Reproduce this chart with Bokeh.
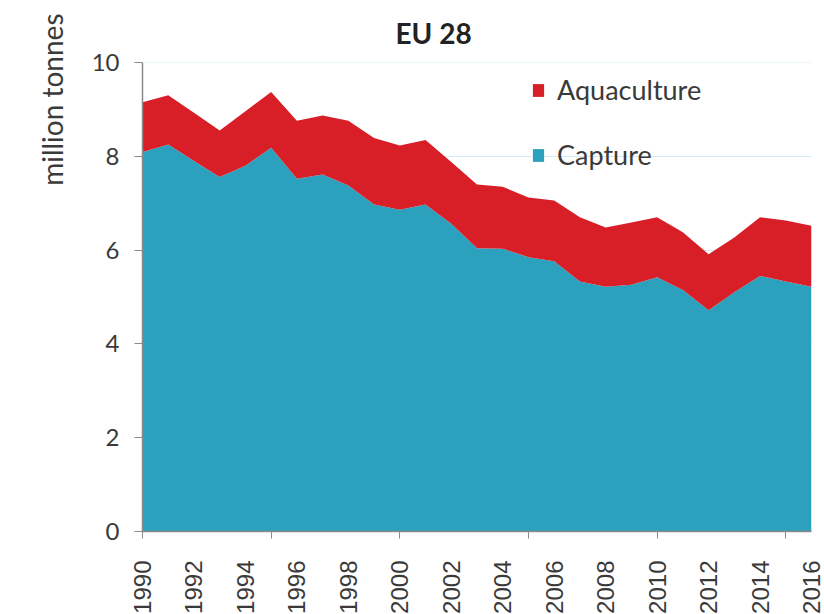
from math import pi
from bokeh.plotting import figure
from bokeh.models import Range1d, FixedTicker, Legend, LegendItem, Title, Span, ColumnDataSource
from bokeh.embed import file_html
from bokeh.resources import INLINE

years = list(range(1990, 2017))
capture = [8.09, 8.25, 7.90, 7.56, 7.80, 8.18, 7.52, 7.61, 7.38, 6.97, 6.86, 6.97, 6.56, 6.04,
           6.03, 5.85, 5.76, 5.33, 5.22, 5.26, 5.42, 5.15, 4.72, 5.10, 5.45, 5.33, 5.22]
aquaculture = [1.06, 1.05, 1.03, 0.99, 1.16, 1.19, 1.24, 1.26, 1.38, 1.42, 1.37, 1.38, 1.32, 1.36,
               1.32, 1.27, 1.30, 1.37, 1.26, 1.33, 1.28, 1.23, 1.19, 1.17, 1.25, 1.30, 1.30]
x_tick_labels = list(range(1990, 2017, 2))
x_minor_ticks = list(range(1990, 2016, 5))
y_ticks = [0, 2, 4, 6, 8, 10]

BLUE = "#2ba1be"
RED = "#d81f28"
TXT = "#3a3a3a"

src = ColumnDataSource(dict(year=years, capture=capture, aquaculture=aquaculture))

p = figure(width=820, height=612, output_backend="svg", toolbar_location=None,
           x_range=Range1d(1990, 2016), y_range=Range1d(0, 10),
           min_border_left=142, min_border_top=62, min_border_right=13, min_border_bottom=10)
p.frame_width = 669
p.frame_height = 469
p.outline_line_color = None
p.background_fill_color = "white"

p.title = Title(text="EU 28", align="left", offset=253, standoff=22, vertical_align="top",
                text_font="Lato", text_font_style="bold", text_font_size="28px",
                text_color="#222222")

rs = p.varea_stack(["capture", "aquaculture"], x="year", source=src, color=[BLUE, RED])

# axes
p.xgrid.visible = False
p.ygrid.ticker = FixedTicker(ticks=y_ticks)
p.ygrid.grid_line_color = "#d3ebf3"
p.ygrid.grid_line_width = 1
p.add_layout(Span(location=10, dimension="width", line_color="#d3ebf3", line_width=1))

p.yaxis.ticker = FixedTicker(ticks=y_ticks)
p.yaxis.axis_line_color = "#8a8a8a"
p.yaxis.axis_line_width = 1.5
p.yaxis.major_tick_line_color = "#8a8a8a"
p.yaxis.major_tick_out = 8
p.yaxis.major_tick_in = 0
p.yaxis.minor_tick_line_color = None
p.yaxis.major_label_standoff = 15
p.yaxis.major_label_text_font = "Lato"
p.yaxis.major_label_text_font_size = "24px"
p.yaxis.major_label_text_color = TXT

p.xaxis.ticker = FixedTicker(ticks=x_tick_labels, minor_ticks=x_minor_ticks)
p.xaxis.axis_line_color = "#8a8a8a"
p.xaxis.axis_line_width = 1.5
p.xaxis.major_tick_line_color = None
p.xaxis.major_tick_out = 0
p.xaxis.major_tick_in = 0
p.xaxis.minor_tick_line_color = "#8a8a8a"
p.xaxis.minor_tick_out = 7
p.xaxis.minor_tick_in = 0
p.xaxis.major_label_orientation = pi / 2
p.xaxis.major_label_standoff = 22
p.xaxis.major_label_text_font = "Liberation Sans"
p.xaxis.major_label_text_font_size = "24px"
p.xaxis.major_label_text_color = TXT

p.add_layout(Title(text="million tonnes", align="right", offset=-49, standoff=36,
                   vertical_align="top",
                   text_font="Lato", text_font_style="normal", text_font_size="28px",
                   text_color=TXT), "left")

legend = Legend(items=[LegendItem(label="Aquaculture", renderers=[rs[1]]),
                       LegendItem(label="Capture", renderers=[rs[0]])],
                location=(389, 360), border_line_color=None, background_fill_alpha=0,
                glyph_width=14, glyph_height=16, label_standoff=12, spacing=32,
                padding=0, margin=0, label_height=27,
                label_text_font="Lato", label_text_font_size="27px", label_text_color=TXT)
p.add_layout(legend)

open("out.html", "w").write(file_html(p, INLINE))
